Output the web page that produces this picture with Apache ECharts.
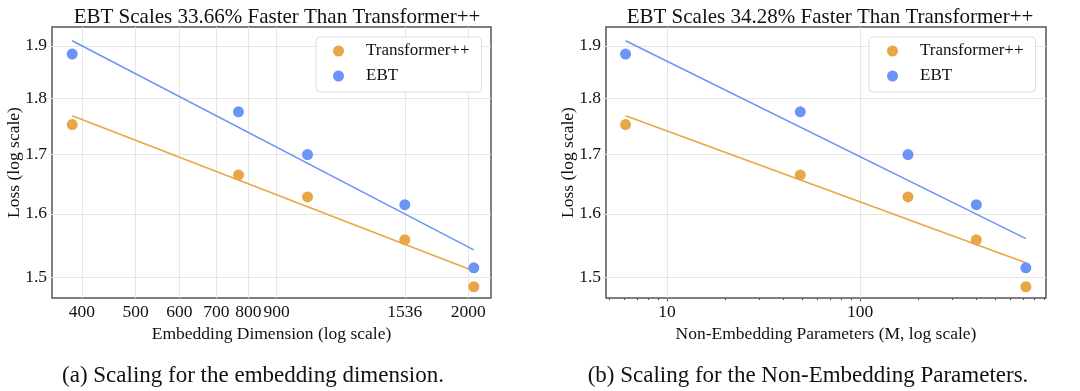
<!DOCTYPE html>
<html>
<head>
<meta charset="utf-8">
<script src="https://cdn.jsdelivr.net/npm/echarts@6/dist/echarts.min.js"></script>
<style>
html,body{margin:0;padding:0;background:#fff;}
#chart{width:1080px;height:391px;}
</style>
</head>
<body>
<div id="chart"></div>
<script>
// ---- data ----
const embedDims = [384, 768, 1024, 1536, 2048];
const nonEmbedParams = [6.1, 49, 177, 400, 722];
const lossTransformer = [1.753, 1.665, 1.628, 1.558, 1.485];
const lossEBT = [1.884, 1.776, 1.700, 1.615, 1.514];
const fitTransformerDim = [1.769, 1.509];
const fitEBTDim = [1.910, 1.542];
const fitTransformerParams = [1.769, 1.522];
const fitEBTParams = [1.910, 1.560];
const dimTicks = [400, 500, 600, 700, 800, 900, 1536, 2000];
const paramTicks = [10, 100];
const paramMinorTicks = [5, 6, 7, 8, 9, 20, 30, 40, 50, 60, 70, 80, 90, 200, 300, 400, 500, 600, 700, 800, 900];
const lossTicks = [1.5, 1.6, 1.7, 1.8, 1.9];
const titles = ['EBT Scales 33.66% Faster Than Transformer++', 'EBT Scales 34.28% Faster Than Transformer++'];
const captions = ['(a) Scaling for the embedding dimension.', '(b) Scaling for the Non-Embedding Parameters.'];
const seriesNames = ['Transformer++', 'EBT'];

const ORANGE = '#E7A745';
const BLUE = '#6C93F8';
const FONT = '"Liberation Serif", "DejaVu Serif", serif';

const chart = echarts.init(document.getElementById('chart'));

function yAxis(gridIndex) {
  return {
    type: 'log', gridIndex, min: 1.468, max: 1.937,
    name: 'Loss (log scale)', nameLocation: 'middle', nameGap: 29, nameMoveOverlap: false,
    nameTextStyle: { fontFamily: FONT, fontSize: 17.5, color: '#111' },
    axisLine: { show: false },
    axisTick: { show: true, length: 3, customValues: lossTicks, lineStyle: { color: '#ddd' } },
    axisLabel: { customValues: lossTicks, fontFamily: FONT, fontSize: 17.5, color: '#111', margin: 5,
      formatter: v => Number(v).toFixed(1) },
    splitLine: { show: true, lineStyle: { color: '#e6e6e6', width: 1 } },
    minorTick: { show: false }
  };
}

const pair = (xs, ys) => xs.map((x, i) => [x, ys[i]]);
const ends = xs => [xs[0], xs[xs.length - 1]];
const titleStyle = size => ({ fontFamily: FONT, fontSize: size, fontWeight: 'normal', color: '#111' });

const option = {
  backgroundColor: '#fff',
  animation: false,
  title: [
    { text: titles[0], left: 272, top: 2, textAlign: 'center', textStyle: titleStyle(21) },
    { text: titles[1], left: 825, top: 2, textAlign: 'center', textStyle: titleStyle(21) },
    { text: captions[0], left: 248, top: 359, textAlign: 'center', textStyle: titleStyle(23) },
    { text: captions[1], left: 803, top: 359, textAlign: 'center', textStyle: titleStyle(23) }
  ],
  legend: [
    { data: seriesNames, orient: 'vertical', left: 316, top: 37, icon: 'circle', itemWidth: 11, itemHeight: 11, itemGap: 5,
      padding: [4, 12, 6, 17], borderColor: '#dddddd', borderWidth: 1, borderRadius: 4, backgroundColor: '#fff',
      textStyle: { fontFamily: FONT, fontSize: 17, color: '#111', lineHeight: 20, padding: [0, 0, 0, 17] } },
    { data: seriesNames, orient: 'vertical', left: 869, top: 37, icon: 'circle', itemWidth: 11, itemHeight: 11, itemGap: 5,
      padding: [4, 12, 6, 18], borderColor: '#dddddd', borderWidth: 1, borderRadius: 4, backgroundColor: '#fff',
      textStyle: { fontFamily: FONT, fontSize: 17, color: '#111', lineHeight: 20, padding: [0, 0, 0, 17] } }
  ],
  grid: [
    { left: 52, right: 589, top: 27, bottom: 93, show: true, borderColor: '#555', borderWidth: 1.5, backgroundColor: 'transparent' },
    { left: 606, right: 34, top: 27, bottom: 93, show: true, borderColor: '#555', borderWidth: 1.5, backgroundColor: 'transparent' }
  ],
  xAxis: [
    { type: 'log', gridIndex: 0, position: 'bottom', min: 353, max: 2200,
      name: 'Embedding Dimension (log scale)', nameLocation: 'middle', nameGap: 23,
      nameTextStyle: { fontFamily: FONT, fontSize: 17.5, color: '#111' },
      axisLine: { show: false },
      axisTick: { show: false, customValues: dimTicks },
      axisLabel: { customValues: dimTicks, fontFamily: FONT, fontSize: 17.5, color: '#111', margin: 5, formatter: v => String(Math.round(v)) },
      splitLine: { show: true, lineStyle: { color: '#e6e6e6', width: 1 } } },
    { type: 'log', gridIndex: 1, position: 'bottom', min: 4.83, max: 918,
      name: 'Non-Embedding Parameters (M, log scale)', nameLocation: 'middle', nameGap: 23,
      nameTextStyle: { fontFamily: FONT, fontSize: 17.5, color: '#111' },
      axisLine: { show: false },
      axisTick: { show: true, length: 3.5, customValues: paramTicks, lineStyle: { color: '#555' } },
      axisLabel: { customValues: paramTicks, fontFamily: FONT, fontSize: 17.5, color: '#111', margin: 5, formatter: v => String(Math.round(v)) },
      splitLine: { show: true, lineStyle: { color: '#e6e6e6', width: 1 } } },
    { type: 'log', gridIndex: 1, position: 'bottom', offset: 0, min: 4.83, max: 918,
      axisLine: { show: false },
      axisTick: { show: true, length: 2, customValues: paramMinorTicks, lineStyle: { color: '#555' } },
      axisLabel: { show: false },
      splitLine: { show: false } }
  ],
  yAxis: [yAxis(0), yAxis(1)],
  series: [
    { name: 'Transformer++ fit', type: 'line', xAxisIndex: 0, yAxisIndex: 0, data: pair(ends(embedDims), fitTransformerDim),
      showSymbol: false, lineStyle: { color: ORANGE, width: 1.5 }, silent: true, z: 2 },
    { name: 'EBT fit', type: 'line', xAxisIndex: 0, yAxisIndex: 0, data: pair(ends(embedDims), fitEBTDim),
      showSymbol: false, lineStyle: { color: BLUE, width: 1.5 }, silent: true, z: 2 },
    { name: seriesNames[0], type: 'scatter', xAxisIndex: 0, yAxisIndex: 0, data: pair(embedDims, lossTransformer),
      symbolSize: 11, itemStyle: { color: ORANGE, opacity: 1 }, z: 3 },
    { name: seriesNames[1], type: 'scatter', xAxisIndex: 0, yAxisIndex: 0, data: pair(embedDims, lossEBT),
      symbolSize: 11, itemStyle: { color: BLUE, opacity: 1 }, z: 3 },
    { name: 'Transformer++ fit', type: 'line', xAxisIndex: 1, yAxisIndex: 1, data: pair(ends(nonEmbedParams), fitTransformerParams),
      showSymbol: false, lineStyle: { color: ORANGE, width: 1.5 }, silent: true, z: 2 },
    { name: 'EBT fit', type: 'line', xAxisIndex: 1, yAxisIndex: 1, data: pair(ends(nonEmbedParams), fitEBTParams),
      showSymbol: false, lineStyle: { color: BLUE, width: 1.5 }, silent: true, z: 2 },
    { name: seriesNames[0], type: 'scatter', xAxisIndex: 1, yAxisIndex: 1, data: pair(nonEmbedParams, lossTransformer),
      symbolSize: 11, itemStyle: { color: ORANGE, opacity: 1 }, z: 3 },
    { name: seriesNames[1], type: 'scatter', xAxisIndex: 1, yAxisIndex: 1, data: pair(nonEmbedParams, lossEBT),
      symbolSize: 11, itemStyle: { color: BLUE, opacity: 1 }, z: 3 }
  ]
};
chart.setOption(option);
</script>
</body>
</html>
